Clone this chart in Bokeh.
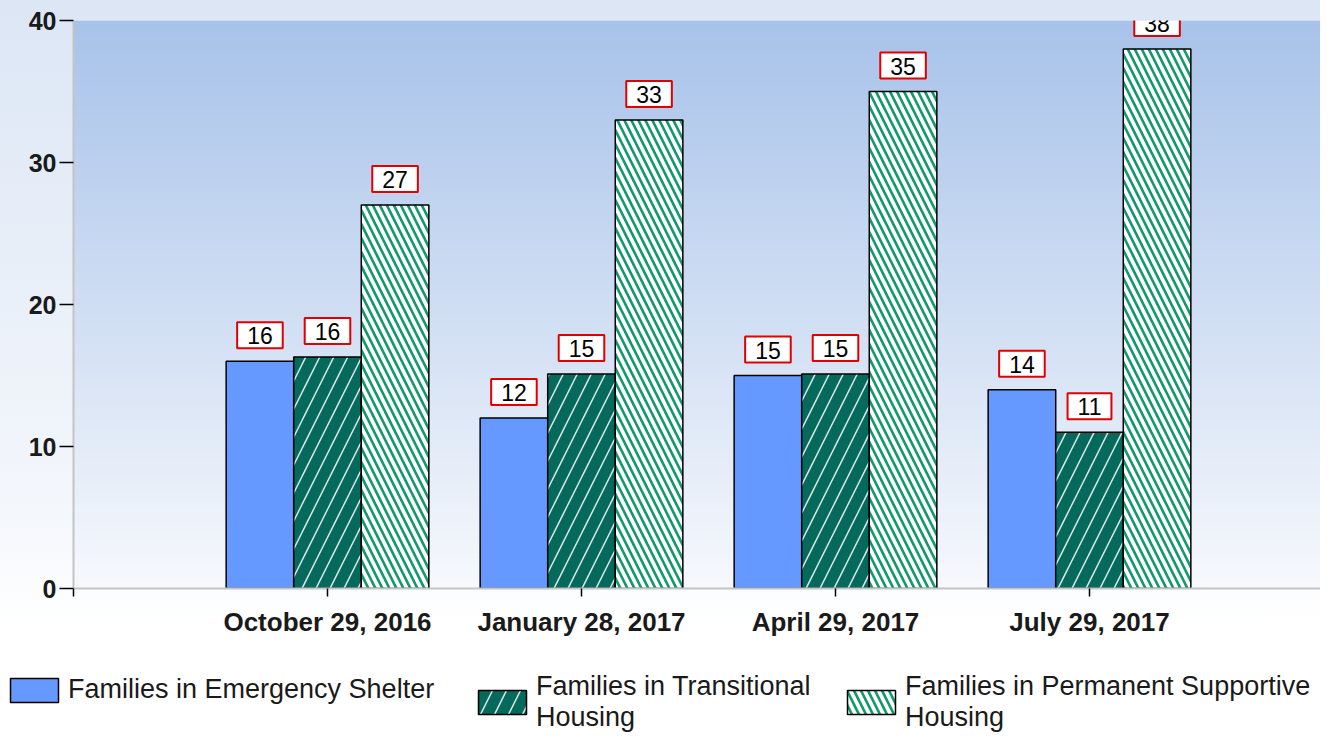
import numpy as np
from bokeh.plotting import figure
from bokeh.layouts import column
from bokeh.models import (ColumnDataSource, Range1d, FixedTicker, Label, Legend, LegendItem)
from bokeh.transform import dodge
from bokeh.embed import file_html
from bokeh.resources import INLINE

# ---- data ----
categories = ["October 29, 2016", "January 28, 2017", "April 29, 2017", "July 29, 2017"]
emergency = [16.0, 12.0, 15.0, 14.0]
transitional = [16.3, 15.1, 15.1, 11.0]
permanent = [27.0, 33.0, 35.0, 38.0]
emergency_labels = ["16", "12", "15", "14"]
transitional_labels = ["16", "15", "15", "11"]
permanent_labels = ["27", "33", "35", "38"]
series_names = ["Families in Emergency Shelter",
                "Families in Transitional\nHousing",
                "Families in Permanent Supportive\nHousing"]
y_ticks = [0, 10, 20, 30, 40]

# ---- layout constants ----
W, H = 1320, 734
H_MAIN = 668
FRAME_LEFT, FRAME_TOP, FRAME_BOTTOM = 73, 20, 588
XMAX = (W - FRAME_LEFT) / 254.0
BW = 0.266
FONT = "Liberation Sans"

ES_STYLE = dict(fill_color="#6699FF", line_color="black", line_width=1.5)
TH_STYLE = dict(fill_color="#05695B", line_color="black", line_width=1.5,
                hatch_pattern="/", hatch_color="white", hatch_alpha=0.85,
                hatch_scale=28, hatch_weight=1.5)
PSH_STYLE = dict(fill_color="white", line_color="black", line_width=1.5,
                 hatch_pattern="\\", hatch_color="#12996A", hatch_alpha=1.0,
                 hatch_scale=14, hatch_weight=2.6)

xpos = list(range(1, len(categories) + 1))
src = ColumnDataSource(dict(x=xpos, es=emergency, th=transitional, psh=permanent))

p = figure(width=W, height=H_MAIN, output_backend="svg", toolbar_location=None,
           x_range=Range1d(0, XMAX), y_range=Range1d(0, 40),
           min_border_left=FRAME_LEFT, min_border_right=0, min_border_top=FRAME_TOP,
           min_border_bottom=H_MAIN - FRAME_BOTTOM)
p.border_fill_alpha = 0
p.background_fill_alpha = 0
p.outline_line_color = None

# gradient inside the plotting frame
N = 300
img = np.empty((N, 1), dtype=np.uint32)
view = img.view(dtype=np.uint8).reshape((N, 1, 4))
t = np.linspace(0, 1, N)
bottom = np.array([247, 249, 253])
top = np.array([168, 195, 234])
for k in range(3):
    view[:, 0, k] = (bottom[k] + (top[k] - bottom[k]) * t).astype(np.uint8)
view[:, 0, 3] = 255
p.image_rgba(image=[img], x=0, y=0, dw=XMAX, dh=40)

# bars
p.vbar(x=dodge("x", -BW, range=p.x_range), top="es", width=BW, source=src, **ES_STYLE)
p.vbar(x="x", top="th", width=BW, source=src, **TH_STYLE)
p.vbar(x=dodge("x", BW, range=p.x_range), top="psh", width=BW, source=src, **PSH_STYLE)

# value labels
for vals, labs, off in [(emergency, emergency_labels, -BW),
                        (transitional, transitional_labels, 0.0),
                        (permanent, permanent_labels, BW)]:
    for xi, v, lab in zip(xpos, vals, labs):
        p.add_layout(Label(x=xi + off, y=v, text=lab, text_align="center",
                           text_baseline="bottom", y_offset=13,
                           text_font=FONT, text_font_size="23px", text_color="black",
                           background_fill_color="white",
                           border_line_color="#E00000", border_line_width=2,
                           padding=dict(left=10, right=10, top=5, bottom=4)))

# axes
p.xaxis.ticker = FixedTicker(ticks=[0] + xpos)
p.xaxis.major_label_overrides = {0: ""} | {xi: c for xi, c in zip(xpos, categories)}
p.xaxis.major_tick_out = 8
p.xaxis.major_tick_in = 0
p.xaxis.minor_tick_line_color = None
p.xaxis.major_tick_line_color = "black"
p.xaxis.major_tick_line_width = 1.5
p.xaxis.axis_line_color = "#c4c4c4"
p.xaxis.axis_line_width = 2
p.xaxis.major_label_standoff = 10
p.xaxis.major_label_text_font = FONT
p.xaxis.major_label_text_font_style = "bold"
p.xaxis.major_label_text_font_size = "26px"
p.xaxis.major_label_text_color = "#1a1a1a"

p.yaxis.ticker = FixedTicker(ticks=y_ticks)
p.yaxis.major_tick_out = 14
p.yaxis.major_tick_in = 0
p.yaxis.minor_tick_line_color = None
p.yaxis.major_tick_line_color = "black"
p.yaxis.major_tick_line_width = 1.5
p.yaxis.axis_line_color = "#c4c4c4"
p.yaxis.axis_line_width = 2
p.yaxis.major_label_standoff = 3
p.yaxis.major_label_text_font = FONT
p.yaxis.major_label_text_font_style = "bold"
p.yaxis.major_label_text_font_size = "25px"
p.yaxis.major_label_text_color = "#1a1a1a"

p.xgrid.ticker = FixedTicker(ticks=xpos)
p.ygrid.ticker = FixedTicker(ticks=y_ticks[1:])
p.grid.grid_line_color = "#c8c8c8"
p.grid.grid_line_width = 1.5

# ---- legend strip (separate figure below the chart) ----
lg = figure(width=W, height=H - H_MAIN, output_backend="svg", toolbar_location=None,
            x_range=Range1d(-1, 0), y_range=Range1d(-1, 0),
            x_axis_type=None, y_axis_type=None, min_border=0)
lg.border_fill_alpha = 0
lg.background_fill_alpha = 0
lg.outline_line_color = None
lg.grid.visible = False

# keep the legend strip's frame independent of the chart's frame
LEGEND_SHIFT = -73
if "frame_align" in lg.properties():
    lg.frame_align = False
    p.frame_align = False
    LEGEND_SHIFT = 0

# legend proxies: same data, lying outside this strip's ranges (so only swatches show)
g_es = lg.vbar(x="x", top="es", width=BW, source=src, **ES_STYLE)
g_th = lg.vbar(x="x", top="th", width=BW, source=src, **TH_STYLE)
g_psh = lg.vbar(x="x", top="psh", width=BW, source=src, **PSH_STYLE)

legend_common = dict(orientation="horizontal", glyph_width=60, glyph_height=30,
                     label_standoff=4, spacing=0, padding=0, margin=0,
                     border_line_color=None, background_fill_alpha=0,
                     label_text_font=FONT, label_text_font_size="27px",
                     label_text_line_height=0.95, label_text_color="#1a1a1a")
for name, rend, loc in [(series_names[0], g_es, (4 + LEGEND_SHIFT, 29)),
                        (series_names[1], g_th, (472 + LEGEND_SHIFT, 1)),
                        (series_names[2], g_psh, (841 + LEGEND_SHIFT, 1))]:
    lg.add_layout(Legend(items=[LegendItem(label=name, renderers=[rend])],
                         location=loc, **legend_common), "center")

page = column(p, lg, spacing=0)
page.styles = {"background": "linear-gradient(to bottom, #dce6f5 0%, #f4f7fc 70%, #ffffff 85%)"}

open("out.html", "w").write(file_html(page, INLINE))
